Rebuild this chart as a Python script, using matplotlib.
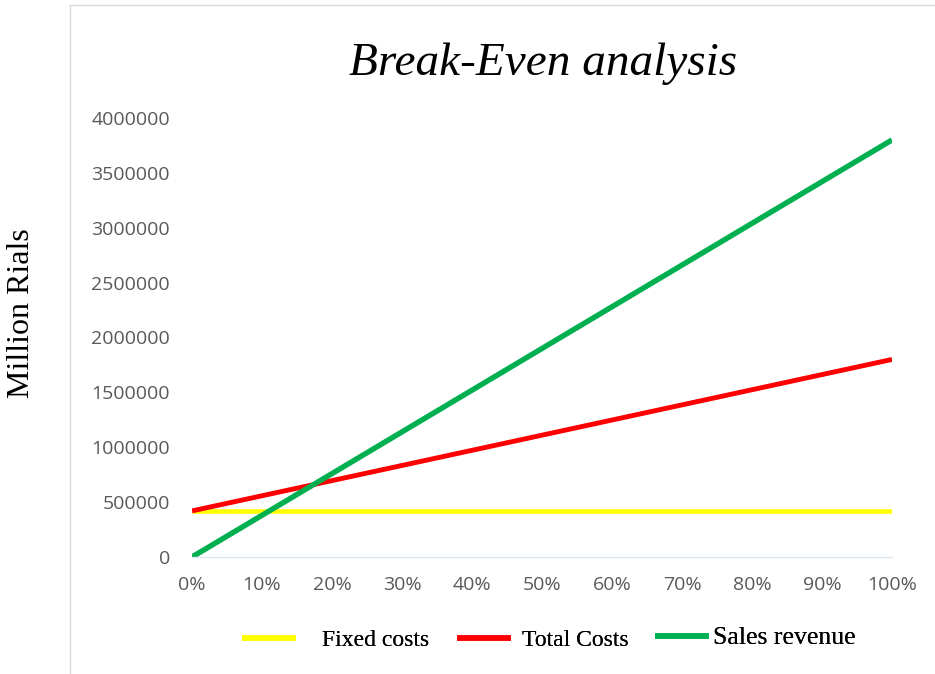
import numpy as np
import matplotlib.pyplot as plt
from matplotlib.lines import Line2D

# Datos
activity = [0, 10, 20, 30, 40, 50, 60, 70, 80, 90, 100]
fixed_costs = [420000] * 11
total_costs = [420000, 558000, 696000, 834000, 972000, 1110000,
               1248000, 1386000, 1524000, 1662000, 1800000]
sales_revenue = [0, 380000, 760000, 1140000, 1520000, 1900000,
                 2280000, 2660000, 3040000, 3420000, 3800000]
x_labels = [f"{v}%" for v in activity]
y_ticks = [0, 500000, 1000000, 1500000, 2000000, 2500000, 3000000, 3500000, 4000000]

fig = plt.figure(figsize=(9.35, 6.74), dpi=100)
ax = fig.add_axes([192/935, 1 - 557/674, 700/935, 439/674])

l1, = ax.plot(activity, fixed_costs, color='#FFFF00', lw=3.3, label='Fixed costs', solid_capstyle='butt')
l2, = ax.plot(activity, total_costs, color='#FF0000', lw=3.5, label='Total Costs', solid_capstyle='butt')
l3, = ax.plot(activity, sales_revenue, color='#00B050', lw=3.9, label='Sales revenue', solid_capstyle='butt')

ax.set_xlim(0, 100)
ax.set_ylim(0, 4000000)
ax.set_xticks(activity)
ax.set_xticklabels(x_labels)
ax.set_yticks(y_ticks)
ax.set_yticklabels([str(v) for v in y_ticks])
ax.tick_params(length=0, labelsize=14, labelcolor='#595959')
ax.tick_params(axis='y', pad=16)
ax.tick_params(axis='x', pad=14)
for lab in ax.get_xticklabels() + ax.get_yticklabels():
    lab.set_fontfamily('Open Sans')

for s in ['top', 'right', 'left']:
    ax.spines[s].set_visible(False)
ax.spines['bottom'].set_color('#dce6f2')
ax.spines['bottom'].set_linewidth(1)

fig.text(543/935, 1 - 64/674, 'Break-Even analysis', ha='center', va='center',
         fontsize=34, fontstyle='italic', family='Liberation Serif')
fig.text(22/935, 1 - 313/674, 'Million Rials', ha='center', va='center',
         rotation=90, fontsize=23, family='Liberation Serif')

# Marco gris claro
fig.add_artist(Line2D([70/935, 70/935], [0, 1 - 5/674], color='#d9d9d9', lw=1))
fig.add_artist(Line2D([70/935, 1], [1 - 5/674, 1 - 5/674], color='#d9d9d9', lw=1))

# Leyenda: una entrada por bloque para respetar las posiciones
entries = [(l1, 242, 1.1, 17, 640), (l2, 457, 0.45, 17, 640), (l3, 655, 0.15, 18.5, 638)]
for line, x0, pad, size, y0 in entries:
    leg = fig.legend(handles=[line], loc='center left',
                     bbox_to_anchor=(x0/935, 1 - y0/674), frameon=False,
                     prop={'family': 'Liberation Serif', 'size': size},
                     handlelength=54/(size*100/72), handletextpad=pad,
                     borderpad=0, borderaxespad=0)
    for h in leg.get_lines():
        h.set_linewidth(4)
    fig.add_artist(leg)

fig.savefig('out.png', dpi=100)
